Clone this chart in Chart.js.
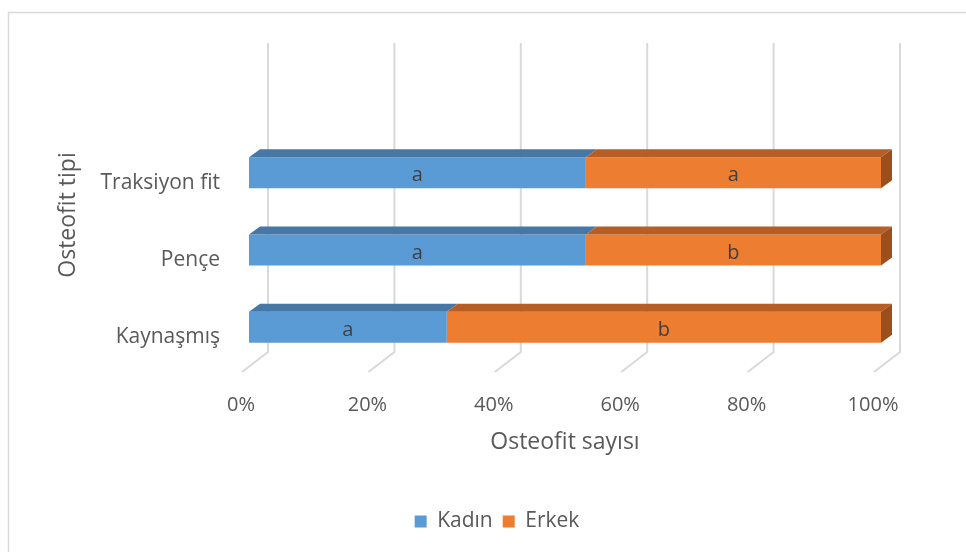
<!DOCTYPE html>
<html>
<head>
<meta charset="utf-8">
<script src="https://cdn.jsdelivr.net/npm/chart.js"></script>
<style>
  html, body { margin: 0; padding: 0; background: #fff; }
</style>
</head>
<body>
<canvas id="graficoOsteofit" width="966" height="552"></canvas>
<script>
// datos (porcentaje de cada sexo por tipo)
const categorias = ['Traksiyon fit', 'Pençe', 'Kaynaşmış']
const kadin = [53.3, 53.3, 31.3]
const erkek = [46.7, 46.7, 68.7]
const letrasKadin = ['a', 'a', 'a']
const letrasErkek = ['a', 'b', 'b']
const ticksX = [0, 20, 40, 60, 80, 100]

const fuente = "'Open Sans', sans-serif"
const gris = '#595959'

// caras de la barra 3D
const colores = [
  { frente: '#5B9BD5', arriba: '#4677A5', lado: '#3F6D97' },
  { frente: '#ED7D31', arriba: '#B65E24', lado: '#9C4F1C' },
]
const dx = 11, dy = 8

const efecto3D = {
  id: 'efecto3D',
  afterLayout(chart) {
    // que no se recorten las etiquetas largas del eje y
    chart.scales.y.left = 0
  },
  beforeDraw(chart) {
    const ctx = chart.ctx
    ctx.save()
    ctx.fillStyle = '#fff'
    ctx.fillRect(0, 0, chart.width, chart.height)
    ctx.strokeStyle = '#d9d9d9'
    ctx.lineWidth = 1.5
    ctx.beginPath()
    ctx.moveTo(8.5, chart.height)
    ctx.lineTo(8.5, 12.5)
    ctx.lineTo(chart.width, 12.5)
    ctx.stroke()
    ctx.restore()
  },
  beforeDatasetsDraw(chart) {
    const { ctx, chartArea, scales } = chart
    ctx.save()
    ctx.strokeStyle = '#d9d9d9'
    ctx.lineWidth = 2
    ticksX.forEach((v) => {
      const x = scales.x.getPixelForValue(v)
      ctx.beginPath()
      ctx.moveTo(x + 19, chartArea.top - 91)
      ctx.lineTo(x + 19, chartArea.bottom - 14)
      ctx.lineTo(x - 7, chartArea.bottom + 6)
      ctx.stroke()
    })
    ctx.restore()
  },
  afterDatasetsDraw(chart) {
    const ctx = chart.ctx
    const letras = [letrasKadin, letrasErkek]
    ctx.save()
    chart.data.datasets.forEach((ds, i) => {
      const meta = chart.getDatasetMeta(i)
      meta.data.forEach((bar) => {
        const { x, y, base, height } = bar.getProps(['x', 'y', 'base', 'height'], true)
        const izq = Math.min(x, base), der = Math.max(x, base)
        const arriba = y - height / 2, abajo = y + height / 2
        ctx.fillStyle = colores[i].arriba
        ctx.beginPath()
        ctx.moveTo(izq, arriba)
        ctx.lineTo(izq + dx, arriba - dy)
        ctx.lineTo(der + dx, arriba - dy)
        ctx.lineTo(der, arriba)
        ctx.closePath()
        ctx.fill()
        if (i === chart.data.datasets.length - 1) {
          ctx.fillStyle = colores[i].lado
          ctx.beginPath()
          ctx.moveTo(der, arriba)
          ctx.lineTo(der + dx, arriba - dy)
          ctx.lineTo(der + dx, abajo - dy)
          ctx.lineTo(der, abajo)
          ctx.closePath()
          ctx.fill()
        }
      })
    })
    // letras dentro de las barras
    ctx.fillStyle = '#404040'
    ctx.font = '20px ' + fuente
    ctx.textAlign = 'center'
    ctx.textBaseline = 'middle'
    chart.data.datasets.forEach((ds, i) => {
      chart.getDatasetMeta(i).data.forEach((bar, j) => {
        const { x, y, base } = bar.getProps(['x', 'y', 'base'], true)
        ctx.fillText(letras[i][j], (x + base) / 2, y + 3)
      })
    })
    ctx.restore()
  },
  afterDraw(chart) {
    const { ctx, chartArea } = chart
    ctx.save()
    ctx.translate(68, (chartArea.top + chartArea.bottom) / 2 - 35)
    ctx.rotate(-Math.PI / 2)
    ctx.fillStyle = gris
    ctx.font = '23px ' + fuente
    ctx.textAlign = 'center'
    ctx.textBaseline = 'middle'
    ctx.fillText('Osteofit tipi', 0, 0)
    ctx.restore()
  },
}

new Chart(document.getElementById('graficoOsteofit'), {
  type: 'bar',
  data: {
    labels: categorias,
    datasets: [
      { label: 'Kadın', data: kadin, backgroundColor: colores[0].frente, borderWidth: 0 },
      { label: 'Erkek', data: erkek, backgroundColor: colores[1].frente, borderWidth: 0 },
    ],
  },
  options: {
    indexAxis: 'y',
    responsive: false,
    animation: false,
    categoryPercentage: 1,
    barPercentage: 0.4,
    layout: { padding: { top: 134, left: 113, right: 85, bottom: 10 } },
    scales: {
      x: {
        stacked: true,
        min: 0,
        max: 100,
        afterBuildTicks: (s) => { s.ticks = ticksX.map((v) => ({ value: v })) },
        afterFit: (s) => { s.height = 135 },
        grid: { display: false, drawTicks: false },
        border: { display: false },
        ticks: {
          callback: (v) => v + '%',
          color: gris,
          font: { family: fuente, size: 20 },
          padding: 27,
          labelOffset: -8,
          maxRotation: 0,
        },
        title: {
          display: true,
          text: 'Osteofit sayısı',
          color: gris,
          font: { family: fuente, size: 23 },
          padding: { top: 0, bottom: 45 },
        },
      },
      y: {
        stacked: true,
        afterFit: (s) => { s.width = 136 },
        grid: { display: false, drawTicks: false },
        border: { display: false },
        ticks: {
          color: gris,
          font: { family: fuente, size: 21 },
          padding: 29,
          labelOffset: 10,
        },
      },
    },
    plugins: {
      legend: {
        position: 'bottom',
        labels: {
          boxWidth: 12,
          boxHeight: 12,
          color: gris,
          font: { family: fuente, size: 21 },
          padding: 10,
        },
      },
      tooltip: { enabled: false },
    },
  },
  plugins: [efecto3D],
})
</script>
</body>
</html>
